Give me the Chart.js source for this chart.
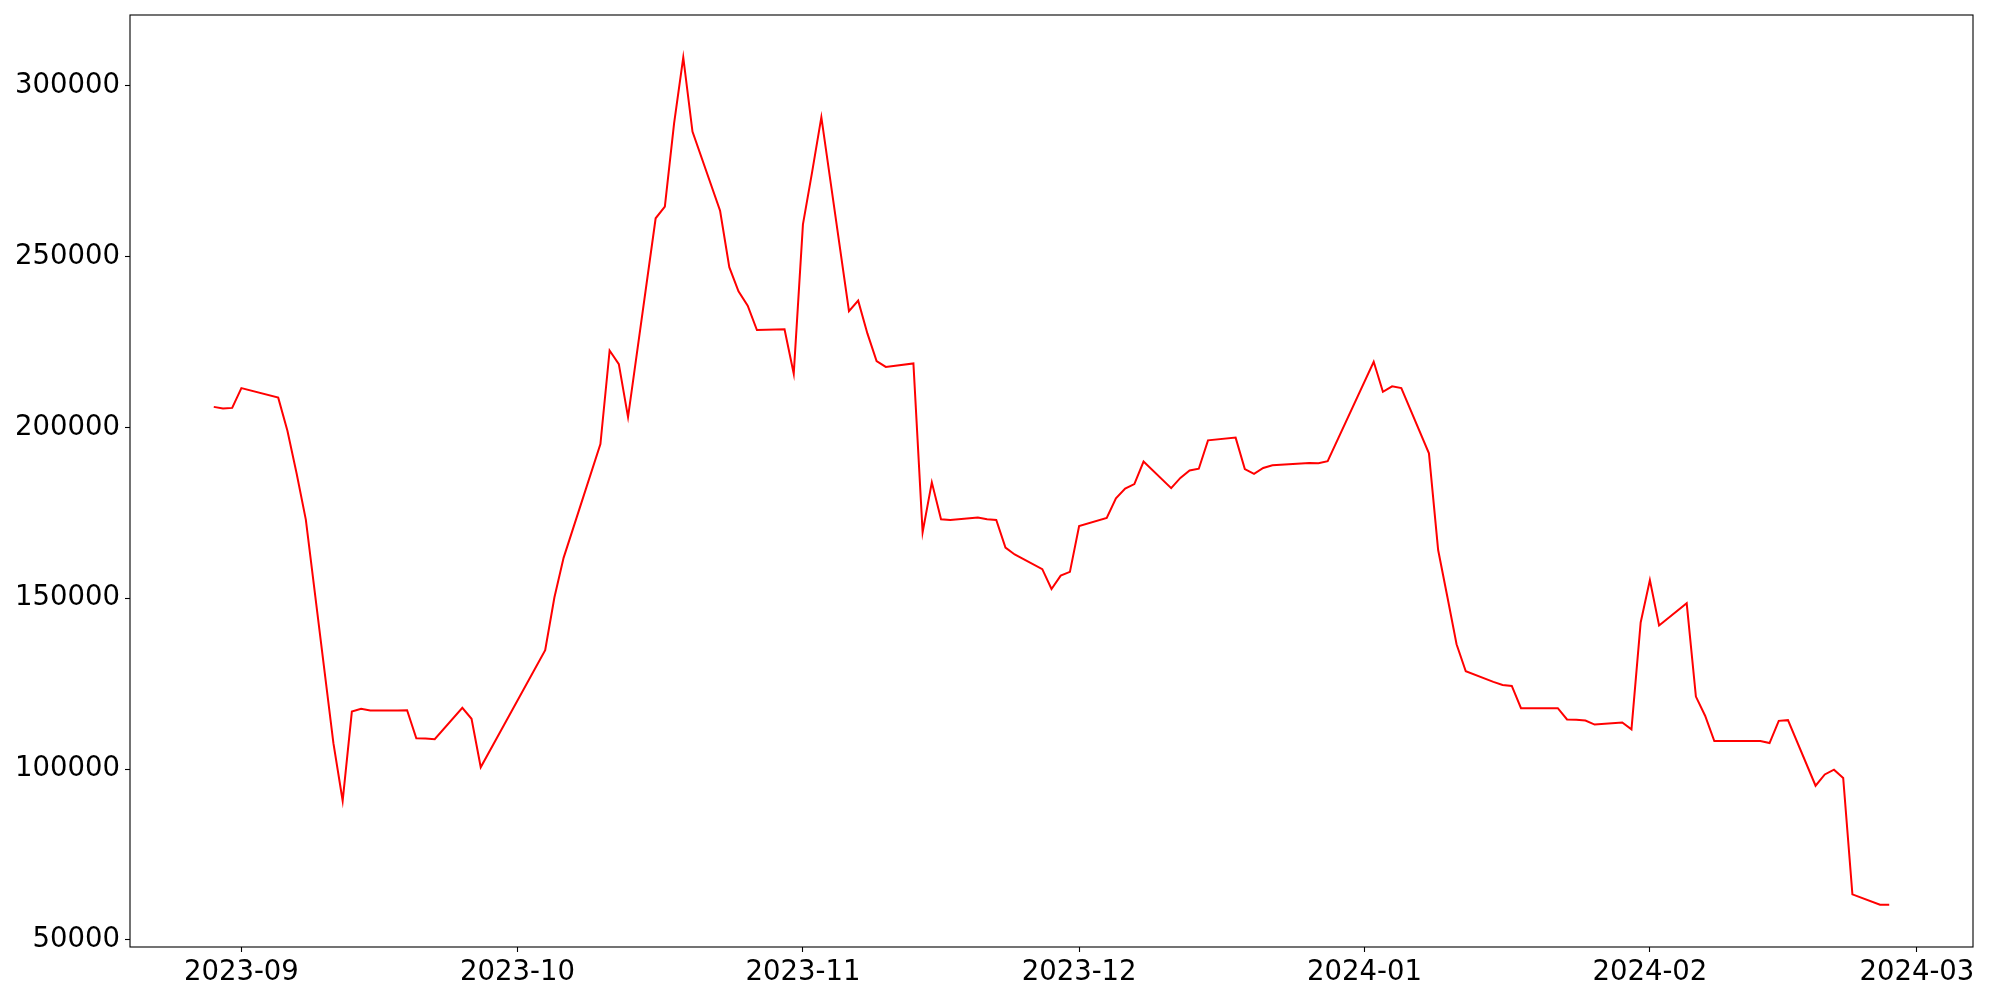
<!DOCTYPE html>
<html>
<head>
<meta charset="utf-8">
<script src="https://cdn.jsdelivr.net/npm/chart.js@4.4.1/dist/chart.umd.min.js"></script>
<style>
  html, body { margin:0; padding:0; background:#fff; }
  canvas { display:block; }
</style>
</head>
<body>
<canvas id="chart" width="2000" height="1000"></canvas>
<script>
// dates (trading days) and values
const dates = [
  '2023-08-29','2023-08-30','2023-08-31','2023-09-01','2023-09-05','2023-09-06','2023-09-07','2023-09-08',
  '2023-09-11','2023-09-12','2023-09-13','2023-09-14','2023-09-15','2023-09-18','2023-09-19','2023-09-20',
  '2023-09-21','2023-09-22','2023-09-25','2023-09-26','2023-09-27','2023-10-04','2023-10-05','2023-10-06',
  '2023-10-10','2023-10-11','2023-10-12','2023-10-13','2023-10-16','2023-10-17','2023-10-18','2023-10-19',
  '2023-10-20','2023-10-23','2023-10-24','2023-10-25','2023-10-26','2023-10-27','2023-10-30','2023-10-31',
  '2023-11-01','2023-11-02','2023-11-03','2023-11-06','2023-11-07','2023-11-08','2023-11-09','2023-11-10',
  '2023-11-13','2023-11-14','2023-11-15','2023-11-16','2023-11-17','2023-11-20','2023-11-21','2023-11-22',
  '2023-11-23','2023-11-24','2023-11-27','2023-11-28','2023-11-29','2023-11-30','2023-12-01','2023-12-04',
  '2023-12-05','2023-12-06','2023-12-07','2023-12-08','2023-12-11','2023-12-12','2023-12-13','2023-12-14',
  '2023-12-15','2023-12-18','2023-12-19','2023-12-20','2023-12-21','2023-12-22','2023-12-26','2023-12-27',
  '2023-12-28','2024-01-02','2024-01-03','2024-01-04','2024-01-05','2024-01-08','2024-01-09','2024-01-10',
  '2024-01-11','2024-01-12','2024-01-15','2024-01-16','2024-01-17','2024-01-18','2024-01-19','2024-01-22',
  '2024-01-23','2024-01-24','2024-01-25','2024-01-26','2024-01-29','2024-01-30','2024-01-31','2024-02-01',
  '2024-02-02','2024-02-05','2024-02-06','2024-02-07','2024-02-08','2024-02-09','2024-02-12','2024-02-13',
  '2024-02-14','2024-02-15','2024-02-16','2024-02-19','2024-02-20','2024-02-21','2024-02-22','2024-02-23',
  '2024-02-26','2024-02-27'
];
const values = [
  206000,205500,205700,211500,208700,199000,186500,173000,
  107500, 90700,116800,117600,117100,117100,117200,109000,
  108900,108700,117900,114700,100500,134800,150200,161800,
  195100,222500,218500,203000,261200,264600,288900,308300,
  286600,263400,246900,239800,235600,228500,228700,215700,
  259400,274800,290800,234000,237100,227500,219400,217700,
  218700,169300,183900,173100,172900,173600,173100,172900,
  164800,162800,158500,152700,156600,157700,171100,173500,
  179200,182100,183400,190000,182200,185200,187400,187900,
  196200,197000,187800,186400,188100,188900,189600,189500,
  190100,219200,210400,212000,211500,192400,164100,150400,
  136500,128600,125500,124600,124300,117800,117800,117800,
  114500,114400,114200,113000,113600,111600,142900,155300,
  142000,148500,121200,115600,108200,108200,108200,108200,
  107600,114100,114300, 95100, 98400, 99800, 97400, 63300,
   60300, 60300
];
const xTickDates = ['2023-09-01','2023-10-01','2023-11-01','2023-12-01','2024-01-01','2024-02-01','2024-03-01'];
const yTicks = [50000,100000,150000,200000,250000,300000];

(() => {
  const FONT = { family:'"DejaVu Sans", sans-serif', size:27.5 };
  const ts = d => Date.parse(d + 'T00:00:00Z');
  const pts = dates.map((d, i) => ({ x: ts(d), y: values[i] }));

  // matplotlib-like 5% margins
  const xs = pts.map(p => p.x), ys = values;
  const xMin0 = Math.min(...xs), xMax0 = Math.max(...xs);
  const yMin0 = Math.min(...ys), yMax0 = Math.max(...ys);
  const xPad = (xMax0 - xMin0) * 0.05, yPad = (yMax0 - yMin0) * 0.05;

  const fmtMonth = v => { const d = new Date(v); return d.getUTCFullYear() + '-' + String(d.getUTCMonth()+1).padStart(2,'0'); };

  // full box frame like matplotlib spines
  const frame = {
    id:'frame',
    afterDraw(c){
      const {ctx, chartArea:{left, top, right, bottom}} = c;
      ctx.save();
      ctx.strokeStyle = '#000'; ctx.lineWidth = 1.1;
      ctx.strokeRect(left, top, right-left, bottom-top);
      ctx.restore();
    }
  };

  new Chart(document.getElementById('chart'), {
    type:'line',
    data:{ datasets:[{ data:pts, borderColor:'#ff0000', borderWidth:2, pointRadius:0, tension:0, fill:false }] },
    options:{
      responsive:false, animation:false, devicePixelRatio:1,
      layout:{ padding:{ top:15, right:27, bottom:0, left:0 } },
      plugins:{ legend:{ display:false }, tooltip:{ enabled:false } },
      scales:{
        x:{
          type:'linear', min:xMin0 - xPad, max:xMax0 + xPad,
          afterBuildTicks: s => { s.ticks = xTickDates.map(d => ({ value: ts(d) })); },
          afterFit: s => { s.height = 53; s.paddingLeft = 0; s.paddingRight = 0; },
          ticks:{ callback: v => fmtMonth(v), font:FONT, color:'#000', padding:4, maxRotation:0, autoSkip:false },
          grid:{ drawOnChartArea:false, drawTicks:true, tickLength:5, tickColor:'#000', tickWidth:1.1 },
          border:{ display:false }
        },
        y:{
          type:'linear', min:yMin0 - yPad, max:yMax0 + yPad,
          afterBuildTicks: s => { s.ticks = yTicks.map(v => ({ value:v })); },
          afterFit: s => { s.width = 130; s.paddingTop = 0; s.paddingBottom = 0; },
          ticks:{ callback: v => String(v), font:FONT, color:'#000', padding:5 },
          grid:{ drawOnChartArea:false, drawTicks:true, tickLength:5, tickColor:'#000', tickWidth:1.1 },
          border:{ display:false }
        }
      }
    },
    plugins:[frame]
  });
})();
</script>
</body>
</html>
